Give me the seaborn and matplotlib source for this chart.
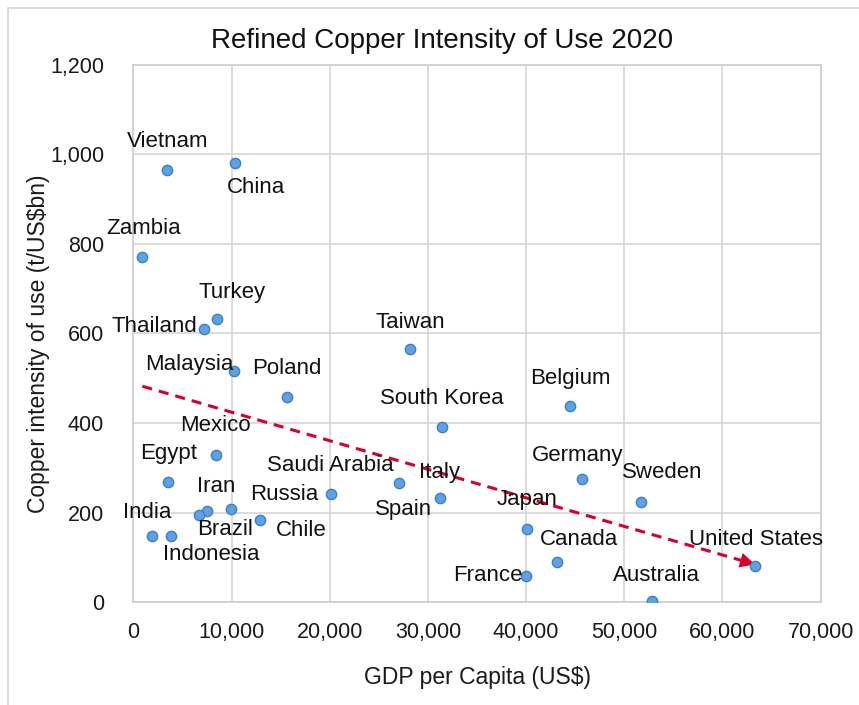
import numpy as np
import pandas as pd
import matplotlib
matplotlib.use("Agg")
import matplotlib.pyplot as plt
from matplotlib.patches import Rectangle
from matplotlib.ticker import FuncFormatter, MultipleLocator
import seaborn as sns

# Country, GDP per capita (US$) and refined copper intensity of use (t/US$bn), 2020
countries = [
    "Vietnam", "China", "Zambia", "Turkey", "Thailand", "Malaysia", "Poland",
    "Taiwan", "South Korea", "Belgium", "Mexico", "Egypt", "Iran", "Brazil",
    "Russia", "Chile", "India", "Indonesia", "Saudi Arabia", "Spain", "Italy",
    "Germany", "Sweden", "Japan", "Canada", "France", "Australia", "United States",
]
gdp_per_capita = [
    3460, 10390, 920, 8490, 7230, 10250, 15620,
    28180, 31400, 44470, 8420, 3570, 7535, 6690,
    9950, 12900, 1950, 3840, 20100, 27090, 31230,
    45660, 51700, 40060, 43180, 39960, 52790, 63310,
]
intensity = [
    965, 980, 770, 632, 610, 517, 459,
    565, 392, 438, 329, 268, 204, 195,
    208, 184, 149, 149, 242, 266, 232,
    275, 224, 164, 89, 59, 2, 81,
]

# Label placement relative to each point (pixels: right, up)
label_offsets = {
    "Vietnam": (0, 28), "China": (21, -24), "Zambia": (1, 29), "Turkey": (15, 27),
    "Thailand": (-50, 2), "Malaysia": (-45, 6), "Poland": (0, 28), "Taiwan": (0, 27),
    "South Korea": (0, 28), "Belgium": (0, 28), "Mexico": (-1, 29), "Egypt": (0, 29),
    "Iran": (9, 24), "Brazil": (26, -15), "Russia": (53, 15), "Chile": (41, -11),
    "India": (-5, 23), "Indonesia": (40, -19), "Saudi Arabia": (0, 28),
    "Spain": (4, -26), "Italy": (0, 26), "Germany": (-4, 24), "Sweden": (21, 29),
    "Japan": (0, 29), "Canada": (22, 23), "France": (-38, 0), "Australia": (5, 26),
    "United States": (1, 26),
}

df = pd.DataFrame({"country": countries, "gdp": gdp_per_capita, "cu": intensity})

sns.set_theme(style="whitegrid")
plt.rcParams["font.family"] = ["Liberation Sans", "DejaVu Sans"]

fig = plt.figure(figsize=(8.59, 7.05), dpi=100)
fig.patch.set_facecolor("white")
ax = fig.add_axes([0.1552, 0.1457, 0.8002, 0.7626])

# Outer chart border
fig.patches.append(Rectangle((8 / 859, -0.05), 1.1, 1 - 8 / 705 + 0.05,
                             transform=fig.transFigure, fill=False,
                             edgecolor="#d9d9d9", linewidth=1.3, zorder=0))

# Linear trend line (least squares) with an arrow at its end
trend_color = "#D6002E"
sns.regplot(data=df, x="gdp", y="cu", ax=ax, scatter=False, ci=None, truncate=True,
            line_kws=dict(color=trend_color, lw=2.2, dashes=(3.3, 2.3), zorder=3))
slope, intercept = np.polyfit(df["gdp"], df["cu"], 1)
x_end = df["gdp"].max()
x_back = x_end - 2500
ax.annotate("", xy=(x_end, slope * x_end + intercept),
            xytext=(x_back, slope * x_back + intercept),
            arrowprops=dict(arrowstyle="-|>,head_length=0.9,head_width=0.45",
                            color=trend_color, lw=0, shrinkA=0, shrinkB=0),
            zorder=4)

sns.scatterplot(data=df, x="gdp", y="cu", ax=ax, s=55, color="#5CA2E4",
                edgecolor="#3F7FC4", linewidth=1.0, zorder=5)

for name, xv, yv in zip(countries, gdp_per_capita, intensity):
    dx, dy = label_offsets[name]
    ax.annotate(name, xy=(xv, yv), xytext=(dx, dy), textcoords="offset pixels",
                ha="center", va="center", fontsize=16, color="#111111", zorder=6)

ax.set_xlim(0, 70000)
ax.set_ylim(0, 1200)
ax.xaxis.set_major_locator(MultipleLocator(10000))
ax.yaxis.set_major_locator(MultipleLocator(200))
ax.xaxis.set_major_formatter(FuncFormatter(lambda v, p: f"{v:,.0f}"))
ax.yaxis.set_major_formatter(FuncFormatter(lambda v, p: f"{v:,.0f}"))
ax.tick_params(axis="x", length=0, pad=14, labelsize=15.5, labelcolor="#1a1a1a")
ax.tick_params(axis="y", length=0, pad=21, labelsize=15.5, labelcolor="#1a1a1a")
ax.grid(True, color="#d9d9d9", linewidth=1.3)
ax.set_axisbelow(True)
for side, spine in ax.spines.items():
    spine.set_color("#d0d0d0")
    spine.set_linewidth(1.3)

ax.set_xlabel("GDP per Capita (US$)", fontsize=16.5, color="#1a1a1a")
ax.set_ylabel("Copper intensity of use (t/US$bn)", fontsize=16.5, color="#1a1a1a")
ax.xaxis.set_label_coords(0.5, -0.1185)
ax.yaxis.set_label_coords(-0.121, 0.48)

fig.text(442 / 859, 1 - 48 / 705, "Refined Copper Intensity of Use 2020",
         ha="center", va="baseline", fontsize=20, color="#111111")

fig.savefig("out.png", dpi=100, facecolor="white")
